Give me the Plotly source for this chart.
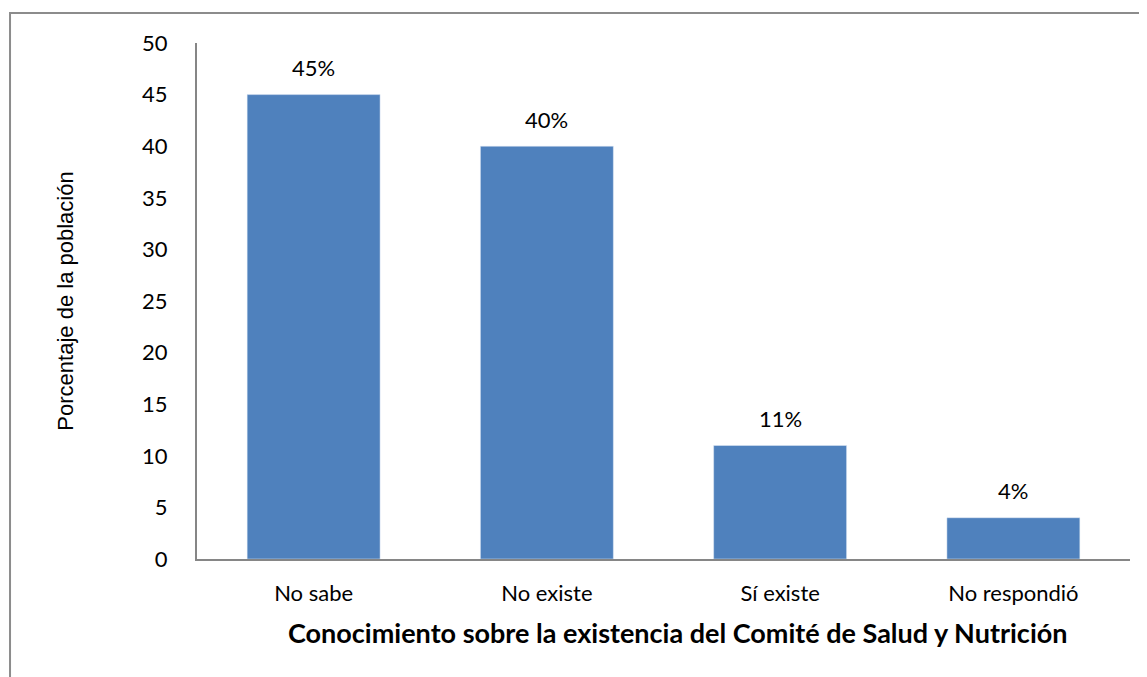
import plotly.graph_objects as go

categorias = ["No sabe", "No existe", "Sí existe", "No respondió"]
porcentajes = [45, 40, 11, 4]
etiquetas = ["45%", "40%", "11%", "4%"]

fig = go.Figure()
fig.add_trace(go.Bar(
    x=categorias,
    y=porcentajes,
    marker_color="#4F81BD",
    showlegend=False,
))

# data labels above each bar
for cat, val, lab in zip(categorias, porcentajes, etiquetas):
    fig.add_annotation(x=cat, y=val, text=lab, showarrow=False,
                       yshift=27, font=dict(size=22, color="#000000"))

# x axis title, slightly right of centre like the original
fig.add_annotation(xref="paper", yref="paper", x=0.5145, y=-0.1434,
                   xanchor="center", yanchor="middle",
                   text="<b>Conocimiento sobre la existencia del Comité de Salud y Nutrición</b>",
                   showarrow=False, font=dict(size=27, color="#000000"))

# outer border of the chart (runs past the right and bottom edges)
fig.add_shape(type="rect", xref="paper", yref="paper",
              x0=-0.2004, x1=1.08, y0=-0.3, y1=1.058,
              line=dict(color="#8c8c8c", width=2), layer="below")

fig.update_layout(
    width=1139, height=669,
    margin=dict(l=189, r=17, t=35, b=118),
    paper_bgcolor="white", plot_bgcolor="white",
    font=dict(family="Lato", size=22, color="#000000"),
    bargap=0.43,
)
fig.update_xaxes(
    showline=True, linecolor="#868686", linewidth=2,
    ticks="", ticklabelstandoff=14,
)
fig.update_yaxes(
    range=[0, 50], dtick=5, showgrid=False, zeroline=False,
    showline=True, linecolor="#868686", linewidth=2,
    ticks="", ticklabelstandoff=23,
    title=dict(text="Porcentaje de la población",
               font=dict(family="Liberation Sans", size=22), standoff=62),
)

fig.write_html("out.html")
